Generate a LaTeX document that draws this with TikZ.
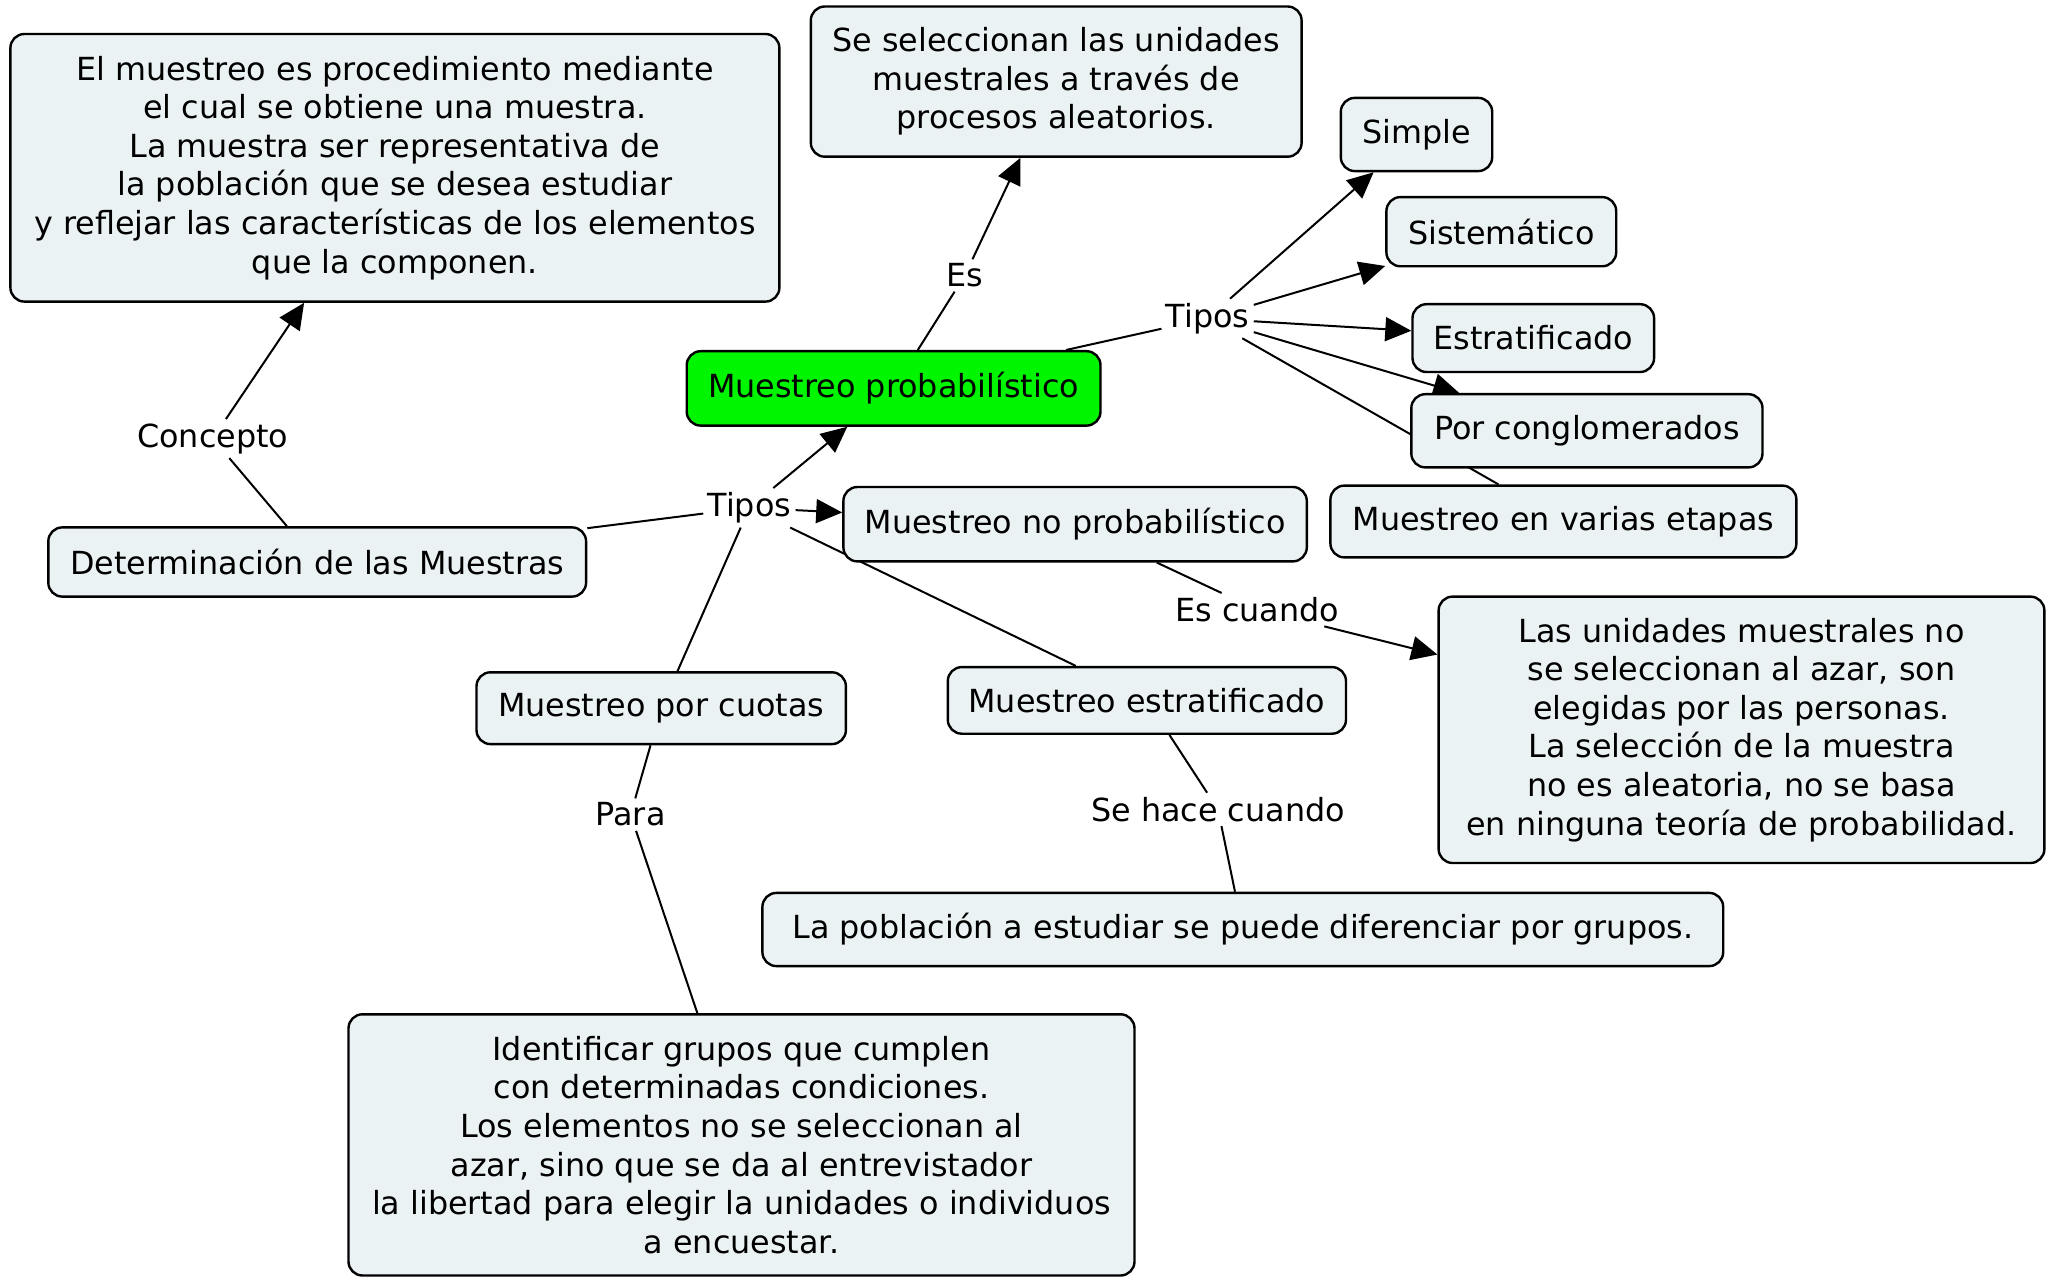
\documentclass[tikz,border=0pt]{standalone}
\usepackage{fontspec}
\setmainfont{DejaVu Sans}
\usetikzlibrary{arrows.meta}
\pgfdeclarelayer{background}
\pgfsetlayers{background,main}
\definecolor{boxfill}{RGB}{235,242,244}
\definecolor{greenfill}{RGB}{0,245,0}
\tikzset{
  concept/.style={draw=black, line width=1.2pt, rounded corners=7pt, fill=boxfill,
    align=center, inner sep=0pt, font=\fontsize{15.9}{19.3}\selectfont},
  linkword/.style={inner sep=2pt, fill=none, font=\fontsize{15.9}{19.3}\selectfont},
  conn/.style={line width=1pt, black},
  arr/.style={conn, -{Triangle[length=13pt,width=12pt]}}
}
\begin{document}
\begin{tikzpicture}[x=0.5pt,y=-0.5pt]
\useasboundingbox (0,0) rectangle (2047,1278);
% concepts
\node[concept, minimum width=384.5pt, minimum height=133.8pt] (def) at (394.9,167.8)
  {El muestreo es procedimiento mediante\\el cual se obtiene una muestra.\\La muestra ser representativa de\\la población que se desea estudiar\\y reflejar las características de los elementos\\que la componen.};
\node[concept, minimum width=245.4pt, minimum height=75.1pt] (sesel) at (1056.2,81.6)
  {Se seleccionan las unidades\\muestrales a través de\\procesos aleatorios.};
\node[concept, minimum width=75.7pt, minimum height=36.6pt] (simple) at (1416.5,134.5) {Simple};
\node[concept, minimum width=114.9pt, minimum height=34.6pt] (sistem) at (1501.3,231.7) {Sistemático};
\node[concept, minimum width=120.8pt, minimum height=33.9pt] (estrat) at (1533.3,338.1) {Estratificado};
\node[concept, minimum width=175.6pt, minimum height=36.6pt] (porcong) at (1586.9,430.8) {Por conglomerados};
\node[concept, minimum width=233pt, minimum height=35.9pt] (etapas) at (1563.4,521.5) {Muestreo en varias etapas};
\node[concept, fill=greenfill, minimum width=206.9pt, minimum height=37.2pt] (prob) at (893.6,388.4) {Muestreo probabilístico};
\node[concept, minimum width=231.7pt, minimum height=37.2pt] (noprob) at (1075.1,524.2) {Muestreo no probabilístico};
\node[concept, minimum width=268.9pt, minimum height=34.6pt] (det) at (317.2,562.0) {Determinación de las Muestras};
\node[concept, minimum width=184.7pt, minimum height=35.9pt] (cuotas) at (661.2,708.2) {Muestreo por cuotas};
\node[concept, minimum width=199.1pt, minimum height=33.3pt] (mestrat) at (1146.9,700.4) {Muestreo estratificado};
\node[concept, minimum width=302.9pt, minimum height=133.2pt] (lasunid) at (1741.5,729.8)
  {Las unidades muestrales no\\se seleccionan al azar, son\\elegidas por las personas.\\La selección de la muestra\\no es aleatoria, no se basa\\en ninguna teoría de probabilidad.};
\node[concept, minimum width=480.4pt, minimum height=36.6pt] (lapob) at (1242.8,929.5) {La población a estudiar se puede diferenciar por grupos.};
\node[concept, minimum width=393pt, minimum height=130.6pt] (ident) at (741.5,1144.9)
  {Identificar grupos que cumplen\\con determinadas condiciones.\\Los elementos no se seleccionan al\\azar, sino que se da al entrevistador\\la libertad para elegir la unidades o individuos\\a encuestar.};
% linking words
\node[linkword] (lconcepto) at (212.8,438.6) {Concepto};
\node[linkword] (les) at (964.8,275.5) {Es};
\node[linkword] (ltiposu) at (1207.6,318.5) {Tipos};
\node[linkword] (ltiposc) at (749.4,507.8) {Tipos};
\node[linkword] (lescuando) at (1257.2,609.7) {Es cuando};
\node[linkword] (lpara) at (630.6,814.6) {Para};
\node[linkword] (lsehace) at (1218.0,809.4) {Se hace cuando};
% connectors
\begin{pgfonlayer}{background}
\fill[white] (0,0) rectangle (2047,1278);
\draw[conn] (det) -- (lconcepto);
\draw[arr] (lconcepto) -- (def);
\draw[conn] (det) -- (ltiposc);
\draw[arr] (ltiposc) -- (prob);
\draw[arr] (ltiposc) -- (noprob);
\draw[conn] (ltiposc) -- (cuotas);
\draw[conn] (ltiposc) -- (mestrat);
\draw[conn] (prob) -- (les);
\draw[arr] (les) -- (sesel);
\draw[conn] (prob) -- (ltiposu);
\draw[arr] (ltiposu) -- (simple);
\draw[arr] (ltiposu) -- (sistem);
\draw[arr] (ltiposu) -- (estrat);
\draw[arr] (ltiposu) -- (porcong);
\draw[conn] (ltiposu) -- (etapas);
\draw[conn] (noprob) -- (lescuando);
\draw[arr] (lescuando) -- (lasunid);
\draw[conn] (mestrat) -- (lsehace);
\draw[conn] (lsehace) -- (lapob);
\draw[conn] (cuotas) -- (lpara);
\draw[conn] (lpara) -- (ident);
\end{pgfonlayer}
\end{tikzpicture}
\end{document}
